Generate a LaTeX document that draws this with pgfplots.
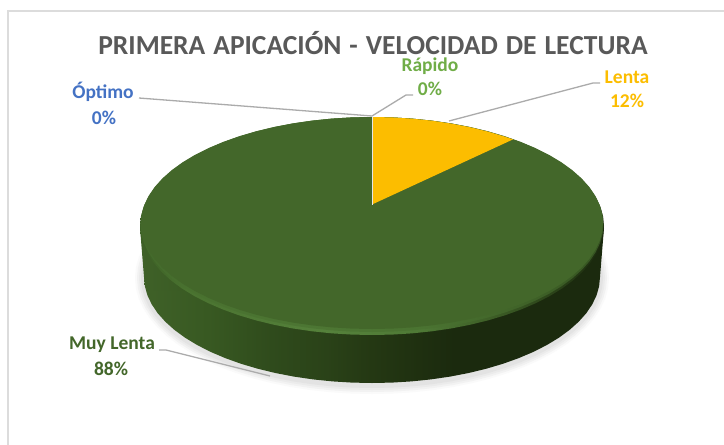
\documentclass[border=0pt]{standalone}
\usepackage{fontspec}
\setmainfont{Carlito}
\usepackage{pgfplots}
\usepackage{pgfplotstable}
\pgfplotsset{compat=1.18}
\tikzset{lab/.style={inner sep=0pt, font=\fontsize{19.5}{19.5}\selectfont\bfseries}}

\definecolor{titlegray}{HTML}{595959}
\definecolor{framegray}{HTML}{DCDCDC}
\definecolor{leader}{HTML}{ABABAB}
\definecolor{muylenta}{HTML}{43672A}
\definecolor{lenta}{HTML}{FCBD00}
\definecolor{rapido}{HTML}{70AD47}
\definecolor{optimo}{HTML}{4472C4}
\definecolor{HTML3F6128}{HTML}{3F6128}
\definecolor{HTML385922}{HTML}{385922}
\definecolor{HTML2F4B1C}{HTML}{2F4B1C}
\definecolor{HTML2A4218}{HTML}{2A4218}
\definecolor{HTML243813}{HTML}{243813}
\definecolor{HTML1B2A0E}{HTML}{1B2A0E}
\definecolor{HTML3C5F25}{HTML}{3C5F25}
\definecolor{HTML4A7330}{HTML}{4A7330}
\definecolor{HTML55813B}{HTML}{55813B}
\definecolor{HTML4F7A36}{HTML}{4F7A36}
\definecolor{HTML2A4118}{HTML}{2A4118}
\definecolor{HTML1C2B0F}{HTML}{1C2B0F}

% side wall of the disc, left to right
\pgfdeclarehorizontalshading{pieside}{100bp}{
  color(0bp)=(HTML3F6128); color(25bp)=(HTML3F6128);
  color(32bp)=(HTML385922); color(39bp)=(HTML2F4B1C);
  color(45bp)=(HTML2A4218); color(50bp)=(HTML243813);
  color(59bp)=(HTML1B2A0E); color(100bp)=(HTML1B2A0E)}
% bevel on the rim of the top face
\pgfdeclarehorizontalshading{pierim}{100bp}{
  color(0bp)=(HTML3C5F25); color(25bp)=(HTML3C5F25);
  color(30bp)=(HTML4A7330); color(45bp)=(HTML55813B);
  color(55bp)=(HTML4F7A36); color(62bp)=(HTML3F6128);
  color(70bp)=(HTML2A4118); color(75bp)=(HTML1C2B0F);
  color(100bp)=(HTML1C2B0F)}

\pgfplotstableread{
c s
1.0000 0.0000
0.9962 0.0872
0.9848 0.1736
0.9659 0.2588
0.9397 0.3420
0.9063 0.4226
0.8660 0.5000
0.8192 0.5736
0.7660 0.6428
0.7071 0.7071
0.6428 0.7660
0.5736 0.8192
0.5000 0.8660
0.4226 0.9063
0.3420 0.9397
0.2588 0.9659
0.1736 0.9848
0.0872 0.9962
0.0000 1.0000
-0.0872 0.9962
-0.1736 0.9848
-0.2588 0.9659
-0.3420 0.9397
-0.4226 0.9063
-0.5000 0.8660
-0.5736 0.8192
-0.6428 0.7660
-0.7071 0.7071
-0.7660 0.6428
-0.8192 0.5736
-0.8660 0.5000
-0.9063 0.4226
-0.9397 0.3420
-0.9659 0.2588
-0.9848 0.1736
-0.9962 0.0872
-1.0000 0.0000
-0.9962 -0.0872
-0.9848 -0.1736
-0.9659 -0.2588
-0.9397 -0.3420
-0.9063 -0.4226
-0.8660 -0.5000
-0.8192 -0.5736
-0.7660 -0.6428
-0.7071 -0.7071
-0.6428 -0.7660
-0.5736 -0.8192
-0.5000 -0.8660
-0.4226 -0.9063
-0.3420 -0.9397
-0.2588 -0.9659
-0.1736 -0.9848
-0.0872 -0.9962
0.0000 -1.0000
0.0872 -0.9962
0.1736 -0.9848
0.2588 -0.9659
0.3420 -0.9397
0.4226 -0.9063
0.5000 -0.8660
0.5736 -0.8192
0.6428 -0.7660
0.7071 -0.7071
0.7660 -0.6428
0.8192 -0.5736
0.8660 -0.5000
0.9063 -0.4226
0.9397 -0.3420
0.9659 -0.2588
0.9848 -0.1736
0.9962 -0.0872
}\unitcircle

% #1 half width, #2 half height, #3 centre y, #4 style
\newcommand{\discplot}[4]{%
  \addplot[draw=none,#4] table[x expr=372+#1*\thisrow{c}, y expr=#3+#2*\thisrow{s}] {\unitcircle} --cycle;}

\begin{document}
\begin{tikzpicture}
\begin{axis}[
    width=724pt, height=445pt, scale only axis,
    xmin=0, xmax=724, ymin=0, ymax=445,
    y dir=reverse,
    hide axis,
    clip=true,
]
% page and chart frame
\addplot[draw=none, fill=white] coordinates {(0,0)(724,0)(724,445)(0,445)} --cycle;
\addplot[framegray, line width=2pt] coordinates {(8,445)(8,11)(724,11)};

% soft shadow
\discplot{237}{116}{278}{fill=black!2}
\discplot{235}{114}{278}{fill=black!5}
\discplot{233}{112}{278}{fill=black!8}
\discplot{231}{110}{278}{fill=black!11}

% side wall
\discplot{228}{106}{277}{shade, shading=pieside}
\addplot[draw=none, shade, shading=pieside] coordinates {(140,228)(604,228)(600,277)(596,290)(148,290)(144,277)} --cycle;

% top face: bevel first, then the flat part
\discplot{232}{109}{226}{shade, shading=pierim}
\discplot{231.5}{107.5}{224.5}{fill=muylenta!55!HTML4F7A36, opacity=0.6}
\discplot{231}{106}{223}{fill=muylenta}

% Lenta slice, 12%
\addplot[draw=none, fill=lenta] coordinates {(372,204.5)(372,117)(392.2,117.4)(412.3,118.7)(432,120.7)(451.3,123.6)(470,127.2)(488,131.6)(505.1,136.7)(513,139.4)} --cycle;
\addplot[white!80!gray, line width=0.7pt] coordinates {(372,117)(372,204.5)};

% leader lines
\addplot[leader, line width=1.3pt] coordinates {(139,98)(372,116)};
\addplot[leader, line width=1.3pt] coordinates {(372,116)(406,95)(413,95)};
\addplot[leader, line width=1.3pt] coordinates {(449,121)(593,83)(600,83)};
\addplot[leader, line width=1.3pt] coordinates {(159,350)(166,350)(270,376)};

% texts
\node[text=titlegray, inner sep=0pt, font=\fontsize{27.5}{27.5}\selectfont\bfseries] at (axis cs:373,43) {\spaceskip=8pt\relax PRIMERA APICACIÓN - VELOCIDAD DE LECTURA};
\node[lab, text=rapido] at (axis cs:430,66) {Rápido};
\node[lab, text=rapido] at (axis cs:430,89) {0\%};
\node[lab, text=lenta] at (axis cs:627,77) {Lenta};
\node[lab, text=lenta] at (axis cs:627,101) {12\%};
\node[lab, text=optimo] at (axis cs:103,92) {Óptimo};
\node[lab, text=optimo] at (axis cs:104,117.5) {0\%};
\node[lab, text=muylenta] at (axis cs:112,345) {Muy Lenta};
\node[lab, text=muylenta] at (axis cs:111,369) {88\%};
\end{axis}
\end{tikzpicture}
\end{document}
